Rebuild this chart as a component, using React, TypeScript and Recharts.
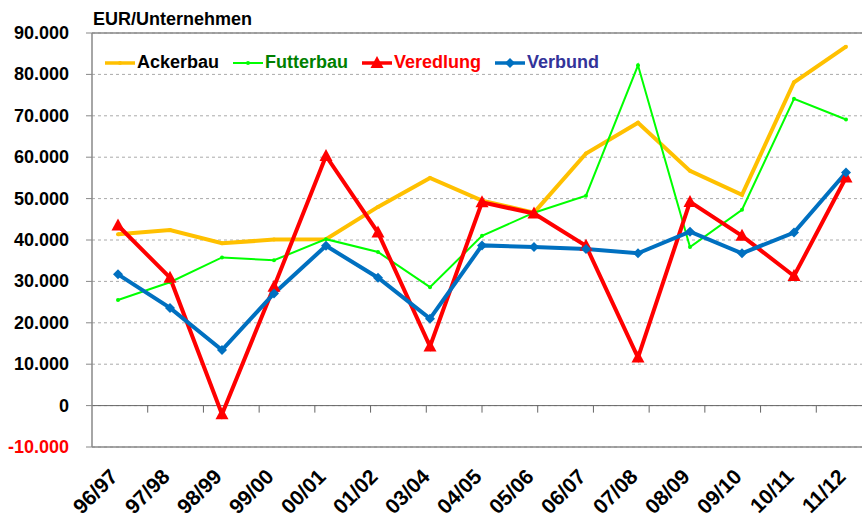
import React from 'react';
import { LineChart, Line, XAxis, YAxis, CartesianGrid, ReferenceLine } from 'recharts';

const years = ['96/97', '97/98', '98/99', '99/00', '00/01', '01/02', '03/04', '04/05', '05/06', '06/07', '07/08', '08/09', '09/10', '10/11', '11/12'];
const ackerbau = [41400, 42400, 39200, 40100, 40200, 48000, 55000, 49500, 46600, 60900, 68300, 56700, 50900, 78100, 86700];
const futterbau = [25500, 29800, 35800, 35100, 40200, 37100, 28600, 41000, 46600, 50700, 82200, 38300, 47300, 74100, 69100];
const veredlung = [43500, 30900, -2100, 28700, 60300, 41800, 14300, 49100, 46400, 38600, 11600, 49200, 41000, 31300, 55100];
const verbund = [31700, 23600, 13400, 27100, 38600, 30900, 21000, 38700, 38300, 37800, 36800, 42000, 36800, 41800, 56300];
const yTicks = [-10000, 0, 10000, 20000, 30000, 40000, 50000, 60000, 70000, 80000, 90000];
const boundaries = [1, 2, 3, 4, 5, 6, 7, 8, 9, 10, 11, 12, 13, 14];

const series = [
  { key: 'Ackerbau', values: ackerbau, color: '#FFC000', text: '#000000', width: 4, marker: 'small' },
  { key: 'Futterbau', values: futterbau, color: '#00FF00', text: '#008000', width: 2, marker: 'small' },
  { key: 'Veredlung', values: veredlung, color: '#FF0000', text: '#FF0000', width: 4, marker: 'triangle' },
  { key: 'Verbund', values: verbund, color: '#0070C0', text: '#333399', width: 4, marker: 'diamond' },
];

const data = years.map((year, i) => {
  const row: any = { year };
  series.forEach((s) => (row[s.key] = s.values[i]));
  return row;
});

const FONT = 'Arial, "Liberation Sans", sans-serif';
const AXIS = '#888888';

const fmt = (v: number) => {
  const s = String(Math.abs(v)).replace(/\B(?=(\d{3})+(?!\d))/g, '.');
  return v < 0 ? '-' + s : s;
};

function Marker({ cx, cy, type, color }: any) {
  if (cx == null || cy == null) return null;
  if (type === 'triangle') {
    return <polygon points={`${cx},${cy - 7} ${cx - 6.5},${cy + 5} ${cx + 6.5},${cy + 5}`} fill={color} />;
  }
  if (type === 'diamond') {
    return <polygon points={`${cx},${cy - 5} ${cx + 5},${cy} ${cx},${cy + 5} ${cx - 5},${cy}`} fill={color} />;
  }
  return <circle cx={cx} cy={cy} r={2} fill={color} />;
}

function YTick({ x, y, payload }: any) {
  return (
    <text x={x} y={y} dy={6} textAnchor="end" fontFamily={FONT} fontWeight="bold" fontSize={18} fill={payload.value < 0 ? '#FF0000' : '#000000'}>
      {fmt(payload.value)}
    </text>
  );
}

function XTick({ x, y, payload }: any) {
  return (
    <text x={x + 1} y={y + 31} textAnchor="end" transform={`rotate(-45 ${x + 1} ${y + 31})`} fontFamily={FONT} fontWeight="bold" fontSize={21} fill="#000000">
      {payload.value}
    </text>
  );
}

function LegendIcon({ s }: any) {
  return (
    <svg width={30} height={14} style={{ marginRight: 2 }}>
      <line x1={0} y1={7} x2={30} y2={7} stroke={s.color} strokeWidth={s.width === 2 ? 2 : 3.5} />
      <Marker cx={15} cy={7} type={s.marker} color={s.color} />
    </svg>
  );
}

export default function App() {
  return (
    <div style={{ position: 'fixed', left: 0, top: 0, width: 862, height: 518, overflow: 'hidden', background: '#fff' }}>
      <div style={{ position: 'absolute', left: 93, top: 9, fontFamily: FONT, fontWeight: 'bold', fontSize: 18, color: '#000' }}>
        EUR/Unternehmen
      </div>
      <LineChart width={872} height={518} data={data} margin={{ top: 33, right: 0, bottom: 0, left: 0 }}>
        <CartesianGrid vertical={false} stroke="#aaaaaa" strokeDasharray="3 3" />
        <XAxis dataKey="year" scale="band" height={71} interval={0} tickLine={false} tickSize={0} tickMargin={0} axisLine={{ stroke: AXIS, strokeWidth: 1.5 }} tick={<XTick />} />
        <XAxis xAxisId="b" type="number" domain={[0, 15]} hide allowDataOverflow />
        <YAxis
          width={92}
          domain={[-10000, 90000]}
          ticks={yTicks}
          interval={0}
          allowDataOverflow
          axisLine={{ stroke: AXIS, strokeWidth: 1.5 }}
          tickLine={{ stroke: AXIS }}
          tickSize={6}
          tickMargin={17}
          tick={<YTick />}
        />
        <ReferenceLine y={90000} stroke={AXIS} strokeWidth={1.5} />
        <ReferenceLine y={0} stroke="#666666" strokeWidth={1} />
        {boundaries.map((b) => (
          <ReferenceLine key={b} xAxisId="b" segment={[{ x: b, y: 0 }, { x: b, y: -1700 }]} stroke="#666666" />
        ))}
        {series.map((s) => (
          <Line
            key={s.key}
            dataKey={s.key}
            stroke={s.color}
            strokeWidth={s.width}
            isAnimationActive={false}
            dot={(p: any) => <Marker key={`${s.key}-${p.index}`} cx={p.cx} cy={p.cy} type={s.marker} color={s.color} />}
            activeDot={false}
          />
        ))}
      </LineChart>
      <div style={{ position: 'absolute', left: 105, top: 52, display: 'flex', alignItems: 'center', fontFamily: FONT, fontWeight: 'bold', fontSize: 18 }}>
        {series.map((s) => (
          <div key={s.key} style={{ display: 'flex', alignItems: 'center', marginRight: 14, color: s.text }}>
            <LegendIcon s={s} />
            {s.key}
          </div>
        ))}
      </div>
    </div>
  );
}
